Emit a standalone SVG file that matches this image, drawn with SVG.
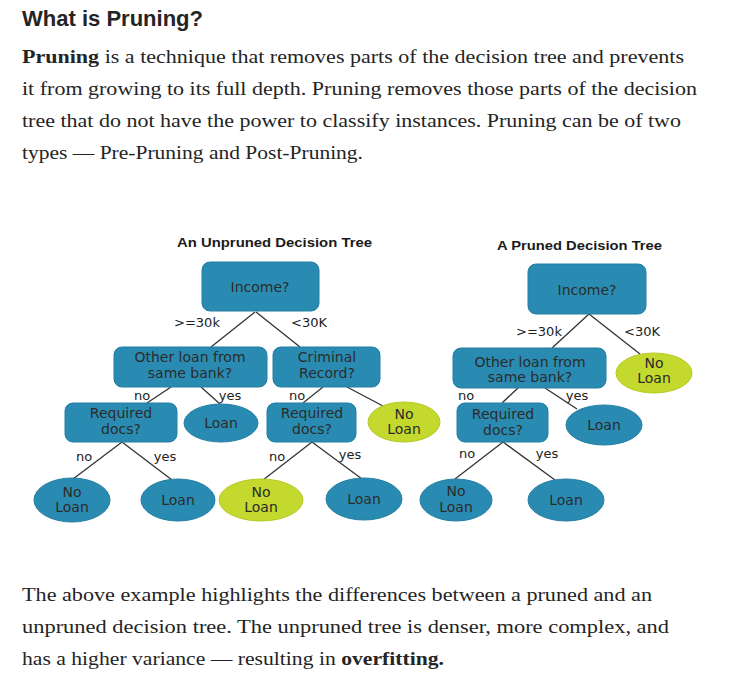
<svg xmlns="http://www.w3.org/2000/svg" width="748" height="677" viewBox="0 0 748 677">
<style>
.h{font-family:"Liberation Sans",Arial,sans-serif;font-weight:bold;font-size:22px;fill:#242424}
.b{font-family:"Liberation Serif","Times New Roman",serif;font-size:18.5px;fill:#242424}
.bb{font-weight:bold}
.t{font-family:"Liberation Sans",Arial,sans-serif;font-weight:bold;font-size:13.5px;fill:#1a1a1a}
.n{font-family:"DejaVu Sans",sans-serif;font-size:14px;fill:#2b2b2b;text-anchor:middle}
.e{font-family:"DejaVu Sans",sans-serif;font-size:13px;fill:#222;text-anchor:middle}
.blue{fill:#2a8bb2;stroke:#247ea3;stroke-width:1}
.green{fill:#c4d92e;stroke:#b5ca25;stroke-width:1}
.c line{stroke:#333;stroke-width:1.3}
</style>
<rect width="748" height="677" fill="#fff"/>
<text class="h" x="22" y="26" textLength="181" lengthAdjust="spacingAndGlyphs">What is Pruning?</text>
<text class="b" x="22" y="63" textLength="662" lengthAdjust="spacingAndGlyphs"><tspan class="bb">Pruning</tspan> is a technique that removes parts of the decision tree and prevents</text>
<text class="b" x="22" y="95" textLength="675" lengthAdjust="spacingAndGlyphs">it from growing to its full depth. Pruning removes those parts of the decision</text>
<text class="b" x="22" y="127" textLength="659" lengthAdjust="spacingAndGlyphs">tree that do not have the power to classify instances. Pruning can be of two</text>
<text class="b" x="22" y="159" textLength="341" lengthAdjust="spacingAndGlyphs">types — Pre-Pruning and Post-Pruning.</text>

<text class="t" x="177" y="247" textLength="195" lengthAdjust="spacingAndGlyphs">An Unpruned Decision Tree</text>
<text class="t" x="497" y="250" textLength="165" lengthAdjust="spacingAndGlyphs">A Pruned Decision Tree</text>

<g id="connectors" class="c">
<line x1="255" y1="312" x2="211" y2="347"/>
<line x1="256" y1="312" x2="300" y2="347"/>
<line x1="171" y1="387" x2="147" y2="403"/>
<line x1="201" y1="387" x2="220" y2="404"/>
<line x1="323" y1="387" x2="303" y2="403"/>
<line x1="347" y1="387" x2="383" y2="406"/>
<line x1="122" y1="442" x2="73" y2="479"/>
<line x1="122" y1="442" x2="172" y2="480"/>
<line x1="312" y1="442" x2="263" y2="480"/>
<line x1="312" y1="442" x2="362" y2="479"/>
<line x1="589" y1="314" x2="552" y2="348"/>
<line x1="589" y1="314" x2="640" y2="354"/>
<line x1="518" y1="388" x2="502" y2="403"/>
<line x1="545" y1="388" x2="577" y2="409"/>
<line x1="503" y1="442" x2="455" y2="479"/>
<line x1="503" y1="442" x2="555" y2="480"/>
</g>

<g id="edge-labels">
<text class="e" x="197" y="327">&gt;=30k</text>
<text class="e" x="309" y="327">&lt;30K</text>
<text class="e" x="142" y="400">no</text>
<text class="e" x="230" y="400">yes</text>
<text class="e" x="297" y="400">no</text>
<text class="e" x="84" y="461">no</text>
<text class="e" x="165" y="461">yes</text>
<text class="e" x="277" y="461">no</text>
<text class="e" x="350" y="459">yes</text>
<text class="e" x="539" y="336">&gt;=30k</text>
<text class="e" x="642" y="336">&lt;30K</text>
<text class="e" x="466" y="400">no</text>
<text class="e" x="577" y="400">yes</text>
<text class="e" x="467" y="458">no</text>
<text class="e" x="547" y="458">yes</text>
</g>

<g id="u-income"><rect class="blue" x="202" y="262" width="117" height="49" rx="8"/><text class="n" x="260" y="292">Income?</text></g>
<g id="u-other"><rect class="blue" x="114" y="347" width="153" height="40" rx="8"/><text class="n" x="190" y="362">Other loan from</text><text class="n" x="190" y="378">same bank?</text></g>
<g id="u-criminal"><rect class="blue" x="273" y="347" width="107" height="40" rx="8"/><text class="n" x="327" y="362">Criminal</text><text class="n" x="327" y="378">Record?</text></g>
<g id="u-req1"><rect class="blue" x="65" y="403" width="112" height="39" rx="8"/><text class="n" x="121" y="418">Required</text><text class="n" x="121" y="434">docs?</text></g>
<g id="u-loan1"><ellipse class="blue" cx="221" cy="423" rx="37" ry="19"/><text class="n" x="221" y="428">Loan</text></g>
<g id="u-req2"><rect class="blue" x="267" y="403" width="89" height="39" rx="8"/><text class="n" x="312" y="418">Required</text><text class="n" x="312" y="434">docs?</text></g>
<g id="u-noloan1"><ellipse class="green" cx="404" cy="422" rx="36" ry="20"/><text class="n" x="404" y="419">No</text><text class="n" x="404" y="434">Loan</text></g>
<g id="u-noloan2"><ellipse class="blue" cx="72" cy="500" rx="38" ry="22"/><text class="n" x="72" y="497">No</text><text class="n" x="72" y="512">Loan</text></g>
<g id="u-loan2"><ellipse class="blue" cx="178" cy="500" rx="37" ry="21"/><text class="n" x="178" y="505">Loan</text></g>
<g id="u-noloan3"><ellipse class="green" cx="261" cy="500" rx="42" ry="21"/><text class="n" x="261" y="497">No</text><text class="n" x="261" y="512">Loan</text></g>
<g id="u-loan3"><ellipse class="blue" cx="364" cy="499" rx="38" ry="21"/><text class="n" x="364" y="504">Loan</text></g>

<g id="p-income"><rect class="blue" x="528" y="264" width="118" height="50" rx="8"/><text class="n" x="587" y="295">Income?</text></g>
<g id="p-other"><rect class="blue" x="453" y="348" width="153" height="40" rx="8"/><text class="n" x="530" y="367">Other loan from</text><text class="n" x="530" y="382">same bank?</text></g>
<g id="p-noloan1"><ellipse class="green" cx="654" cy="373" rx="38" ry="20"/><text class="n" x="654" y="368">No</text><text class="n" x="654" y="383">Loan</text></g>
<g id="p-req"><rect class="blue" x="457" y="403" width="91" height="39" rx="8"/><text class="n" x="503" y="419">Required</text><text class="n" x="503" y="435">docs?</text></g>
<g id="p-loan1"><ellipse class="blue" cx="604" cy="425" rx="38" ry="20"/><text class="n" x="604" y="430">Loan</text></g>
<g id="p-noloan2"><ellipse class="blue" cx="456" cy="500" rx="36" ry="21"/><text class="n" x="456" y="496">No</text><text class="n" x="456" y="512">Loan</text></g>
<g id="p-loan2"><ellipse class="blue" cx="566" cy="500" rx="38" ry="21"/><text class="n" x="566" y="505">Loan</text></g>

<text class="b" x="22" y="601" textLength="630" lengthAdjust="spacingAndGlyphs">The above example highlights the differences between a pruned and an</text>
<text class="b" x="22" y="633" textLength="647" lengthAdjust="spacingAndGlyphs">unpruned decision tree. The unpruned tree is denser, more complex, and</text>
<text class="b" x="22" y="665" textLength="422" lengthAdjust="spacingAndGlyphs">has a higher variance — resulting in <tspan class="bb">overfitting.</tspan></text>
</svg>
